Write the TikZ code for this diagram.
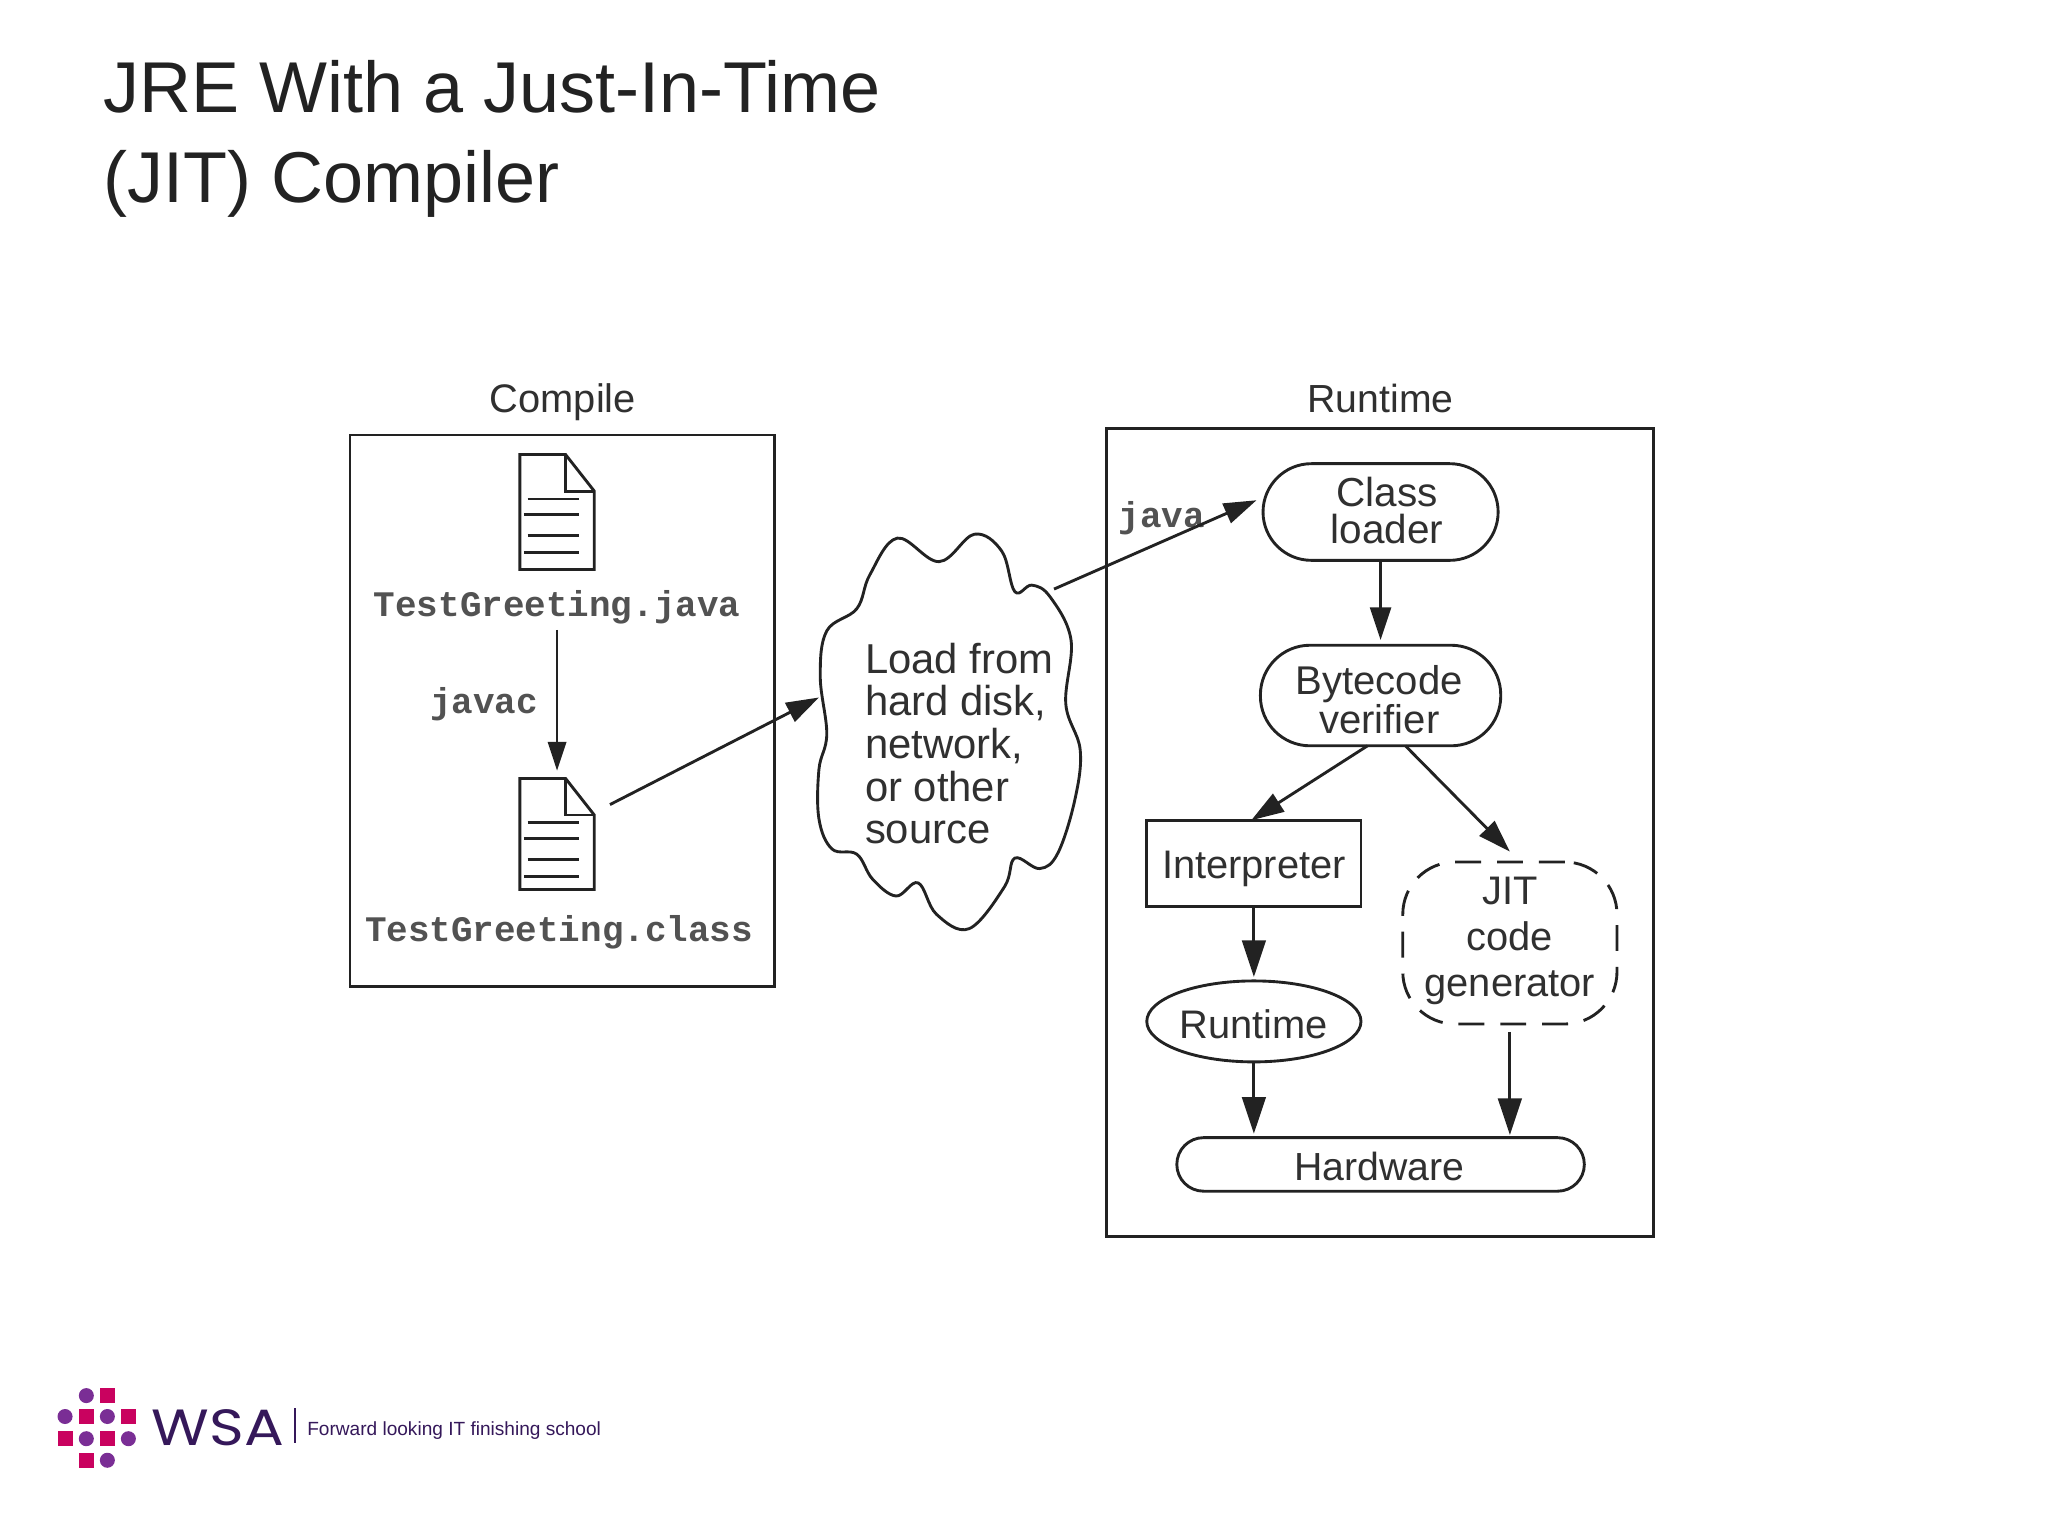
\documentclass[tikz,border=0pt]{standalone}
\usepackage{fontspec}
\setmainfont{Liberation Sans}
\newfontfamily\monof{Liberation Mono}
\newfontfamily\logof{Poppins}
\usetikzlibrary{arrows.meta,calc,shapes.geometric}
\newdimen\myu \myu=0.6556pt
\newcommand\ufs[1]{\fontsize{#1\myu}{#1\myu}\selectfont}
\definecolor{ink}{HTML}{222222}
\definecolor{txt}{HTML}{303030}
\definecolor{magentaL}{HTML}{C9025F}
\definecolor{purpleL}{HTML}{7A2E95}
\definecolor{darkL}{HTML}{35185A}
\tikzset{
  x=\myu,y=-\myu,
  sz/.style 2 args={minimum width=#1*\myu,minimum height=#2*\myu,inner sep=0pt,outer sep=0pt},
  frame/.style={draw=ink,line width=2.2*\myu},
  shapeline/.style={draw=ink,line width=2.2*\myu},
  lab/.style={text=txt,inner sep=0pt,align=center},
  mono/.style={text=black!68,inner sep=0pt,font=\monof\bfseries\ufs{27.5}},
  arr/.style={draw=ink,line width=2.2*\myu,-{Stealth[inset=0pt,length=16.4pt,width=10.5pt]}},
  bigarr/.style={draw=ink,line width=2.4*\myu,-{Stealth[inset=0pt,length=18.4pt,width=11.8pt]}},
  sq/.style={fill=magentaL,draw=none,minimum size=11.5*\myu,inner sep=0pt},
  ci/.style={fill=purpleL,draw=none,circle,minimum size=11.5*\myu,inner sep=0pt},
}
\newcommand\docicon[4]{%
  \node[sz={57}{#4}] (#1) at (#2+28.5,#3+#4/2) {};
  \begin{scope}[shift={(#2,#3)}]
    \draw[shapeline,line join=miter] (0,0) -- (35,0) -- (57,28) -- (57,#4) -- (0,#4) -- cycle;
    \draw[shapeline] (35,0) -- (35,28) -- (57,28);
    \draw[shapeline] (6,34) -- (45,34) (3,46) -- (45,46) (6,62) -- (45,62) (3,75) -- (45,75);
  \end{scope}}
\begin{document}
\begin{tikzpicture}
\useasboundingbox (0,0) rectangle (1568,1175.25);
\fill[white] (0,0) rectangle (1568,1175.25);
% title
\node[anchor=base west,inner sep=0pt,text=ink,font=\ufs{55.1}] (t1) at (79,86) {JRE With a Just-In-Time};
\node[anchor=base west,inner sep=0pt,text=ink,font=\ufs{55.1}] (t2) at (79,155) {(JIT) Compiler};
% frames
\node[frame,sz={325}{422}] (compile) at (430.5,544) {};
\node[frame,sz={419}{619}] (runtimebox) at (1056.5,637.5) {};
\node[lab,font=\ufs{30.5}] (compilelab) at (431,308) {Compile};
\node[lab,font=\ufs{30}] (runtimelab) at (1057,305) {Runtime};
% documents
\docicon{doc1}{398}{348}{88}
\docicon{doc2}{398}{596}{85}
\node[mono] (tg1) at (426.5,465) {TestGreeting.java};
\node[mono] (tg2) at (428,714) {TestGreeting.class};
\node[mono] (javac) at (370.5,539) {javac};
\node[mono] (javal) at (889.5,396.5) {java};
% cloud
\draw[shapeline] plot[smooth cycle,tension=0.62] coordinates {
 (687,412) (719,430) (746,409) (767,422) (777,453) (790,448) (804,457) (820,490)
 (816,539) (827,574) (823,612) (810,653) (796,665) (777,657) (769,679) (742,711)
 (717,700) (703,676) (686,686) (668,673) (656,654) (637,650) (627,627) (627,589)
 (633,562) (628,518) (633,483) (656,466) (666,440)};
\node[anchor=north west,lab,align=left,font=\fontsize{32\myu}{32.6\myu}\selectfont] (cloud) at (662,492) {Load from\\hard disk,\\network,\\or other\\source};
\coordinate (classout) at (467,616);
\coordinate (cloudin) at (627,534);
\coordinate (cloudout) at (807,451);
% runtime nodes
\node[shapeline,sz={180}{74},rounded corners=37*\myu] (classl) at (1057,392) {};
\node[lab,font=\fontsize{31\myu}{28\myu}\selectfont] (classt) at (1062,391) {Class\\loader};
\node[shapeline,sz={184}{77},rounded corners=38*\myu] (bytecode) at (1057,532.5) {};
\node[lab,font=\fontsize{30.7\myu}{28\myu}\selectfont] (bytet) at (1056,535.5) {Bytecode\\verifier};
\node[shapeline,sz={164}{66}] (interp) at (960,661) {};
\node[lab,font=\ufs{30.5}] (interpt) at (960,665) {Interpreter};
\node[shapeline,ellipse,sz={164}{62}] (rt) at (960,782) {};
\node[lab,font=\ufs{30.5}] (rtt) at (960,784) {Runtime};
\node[draw=ink,line width=2.2*\myu,dash pattern=on 13pt off 8pt,sz={164}{124},rounded corners=40*\myu] (jit) at (1156,722) {};
\node[lab,font=\fontsize{30.5\myu}{35\myu}\selectfont] (jitt) at (1156,720.5) {JIT\\code\\generator};
\node[shapeline,sz={312}{41},rounded corners=20.5*\myu] (hw) at (1057,891.5) {};
\node[lab,font=\ufs{30}] (hwt) at (1056,893) {Hardware};
% connectors
\draw[arr,-{Stealth[inset=0pt,length=14.4pt,width=9.2pt]},line width=1.6*\myu,shorten <=4*\myu,shorten >=6*\myu] (tg1.south) -- (doc2.north);
\draw[arr] (classout) -- (cloudin);
\draw[arr] (cloudout) -- ([yshift=9*\myu,xshift=-5*\myu]classl.west);
\draw[arr] (classl.south) -- ([yshift=4*\myu]bytecode.north);
\draw[arr] ([xshift=-10*\myu]bytecode.south) -- ([xshift=-2*\myu]interp.north);
\draw[arr] ([xshift=19*\myu]bytecode.south) -- ([yshift=8*\myu]jit.north);
\draw[bigarr,shorten >=3*\myu] (interp.south) -- (rt.north);
\draw[bigarr,shorten >=3*\myu] (rt.south) -- (rt.south |- hw.north);
\draw[bigarr,shorten <=6*\myu,shorten >=2*\myu] (jit.south) -- (jit.south |- hw.north);
% logo
\node[ci] (l1) at (66.1,1068.5) {};
\node[sq] (l2) at (82.2,1068.5) {};
\node[ci] (l3) at (49.8,1084.5) {};
\node[sq] (l4) at (66.1,1084.5) {};
\node[ci] (l5) at (82.2,1084.5) {};
\node[sq] (l6) at (98.3,1084.5) {};
\node[sq] (l7) at (49.8,1101.5) {};
\node[ci] (l8) at (66.1,1101.5) {};
\node[sq] (l9) at (82.2,1101.5) {};
\node[ci] (l10) at (98.3,1101.5) {};
\node[sq] (l11) at (66.1,1118) {};
\node[ci] (l12) at (82.2,1118) {};
\node[anchor=base west,inner sep=0pt,text=darkL,font=\logof\ufs{39}] (wsa) at (116,1107) {\scalebox{1.16}[1]{WSA}};
\draw[darkL,line width=1.3*\myu] (226,1078) -- (226,1105);
\node[anchor=base west,inner sep=0pt,text=darkL,font=\ufs{14.6}] (slogan) at (235,1099) {Forward looking IT finishing school};
\end{tikzpicture}
\end{document}
